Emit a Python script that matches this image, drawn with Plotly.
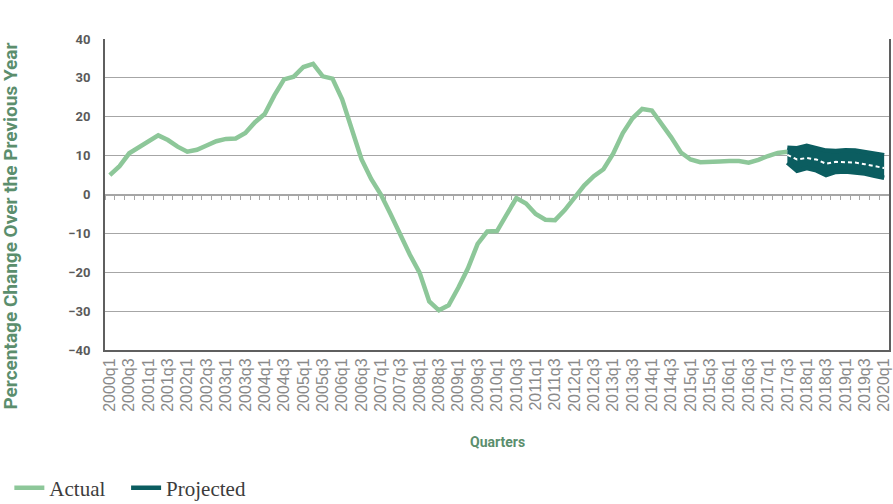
import plotly.graph_objects as go

# ---------------- data ----------------
quarters = [f"{y}q{q}" for y in range(2000, 2021) for q in range(1, 5)][:81]

actual = [5.0, 7.3, 10.6, 12.2, 13.5, 15.2, 14.0, 12.3, 11.0, 11.5,
          12.6, 13.7, 14.3, 14.4, 15.8, 18.6, 20.7, 25.5, 29.6, 30.3,
          32.8, 33.6, 30.4, 29.8, 24.5, 16.5, 9.1, 4.0, 0.0, -5.0,
          -10.5, -15.5, -20.1, -27.5, -29.8, -28.5, -24.0, -19.0, -12.7, -9.5,
          -9.4, -5.0, -0.9, -2.3, -5.0, -6.5, -6.6, -4.0, -0.7, 2.3,
          4.7, 6.5, 10.5, 15.8, 19.6, 22.0, 21.6, 18.2, 14.7, 10.8,
          9.0, 8.3, 8.3, 8.5, 8.6, 8.6, 8.2, 8.9, 9.9, 10.7, 11.0]

proj_start = "2017q3"
proj_center = [10.2, 9.0, 9.4, 9.0, 7.9, 8.4, 8.3, 8.2, 7.8, 7.3, 6.8]
proj_upper = [12.0, 11.9, 12.5, 11.9, 11.3, 11.2, 11.4, 11.3, 10.9, 10.5, 10.1]
proj_lower = [8.2, 6.1, 6.8, 6.2, 5.0, 5.8, 5.9, 5.6, 5.4, 4.8, 4.3]

tick_labels = quarters[::2]
series_names = ["Actual", "Projected"]

# ---------------- styles ----------------
GREEN = "#8dc799"
TEAL = "#0b5d60"
TITLE_GREEN = "#5b8e6d"
GRID = "#a6a6a6"
AXIS = "#5f5f5f"
PAD = "\u00a0\u00a0\u00a0"

idx = list(range(len(quarters)))
ax = idx[:len(actual)]
p0 = quarters.index(proj_start)
px = idx[p0:p0 + len(proj_center)]

fig = go.Figure()

fig.add_trace(go.Scatter(
    x=ax, y=actual, mode="lines", name=series_names[0] + PAD,
    line=dict(color=GREEN, width=4.5), hoverinfo="skip"))

fig.add_trace(go.Scatter(
    x=px, y=proj_upper, mode="lines", name=series_names[1],
    line=dict(color=TEAL, width=4.5), hoverinfo="skip"))
fig.add_trace(go.Scatter(
    x=px, y=proj_lower, mode="lines", name="Projected band",
    line=dict(color=TEAL, width=4.5), fill="tonexty", fillcolor=TEAL,
    showlegend=False, hoverinfo="skip"))
fig.add_trace(go.Scatter(
    x=px, y=proj_center, mode="lines", name="Projected centre",
    xaxis="x2",
    line=dict(color="white", width=2, dash="4px,3px"),
    showlegend=False, hoverinfo="skip"))

fig.update_layout(
    width=893, height=504,
    margin=dict(l=105, r=4, t=39, b=154, autoexpand=False),
    paper_bgcolor="white", plot_bgcolor="white",
    showlegend=True,
    legend=dict(
        orientation="h", traceorder="normal",
        x=-0.122, xanchor="left", y=-0.444, yanchor="middle",
        font=dict(family="Liberation Serif", size=21, color="#3c3c3c"),
        itemwidth=30, bgcolor="rgba(0,0,0,0)"),
    xaxis=dict(
        range=[-0.5, 80.5], tickmode="array",
        tickvals=idx[::2], ticktext=tick_labels,
        tickangle=-90, ticks="", automargin=False,
        tickfont=dict(family="Liberation Sans", size=16, color="#8a8a8a"),
        showgrid=False, zeroline=False,
        showline=True, linecolor=AXIS, linewidth=2),
    xaxis2=dict(
        overlaying="x", matches="x", anchor="free", position=0.5,
        range=[-0.5, 80.5], tickmode="linear", tick0=-0.5, dtick=1,
        ticks="outside", ticklen=5, tickcolor=GRID, tickwidth=1,
        showticklabels=False, showgrid=False, zeroline=False,
        showline=True, linecolor=GRID, linewidth=1.5, layer="below traces"),
    yaxis=dict(
        range=[-40, 40], dtick=10, tick0=0, automargin=False,
        tickfont=dict(family="Roboto", size=13, color="#5a5a5a", weight="bold"),
        ticklabelstandoff=10,
        showgrid=True, gridcolor=GRID, gridwidth=1,
        zeroline=False,
        showline=True, linecolor=AXIS, linewidth=2, mirror=True),
    annotations=[
        dict(text="<b>Percentage Change Over the Previous Year</b>",
             xref="paper", yref="paper", x=-0.12, y=0.40,
             xanchor="center", yanchor="middle", textangle=-90, showarrow=False,
             font=dict(family="Roboto", size=19, color=TITLE_GREEN)),
        dict(text="<b>Quarters</b>",
             xref="paper", yref="paper", x=0.5, y=-0.296,
             xanchor="center", yanchor="middle", showarrow=False,
             font=dict(family="Roboto", size=14, color=TITLE_GREEN)),
    ],
)

fig.write_html("out.html", config={"displayModeBar": False},
               post_script="document.body.style.margin='0';")
